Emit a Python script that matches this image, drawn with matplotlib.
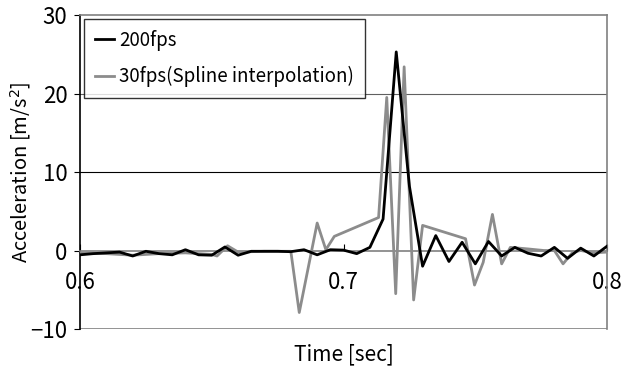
import numpy as np
import matplotlib.pyplot as plt

plt.rcParams['font.family'] = ['Noto Sans CJK JP', 'DejaVu Sans']

# 200fps measurement, every 0.005 s
t_200 = np.round(np.arange(0.6, 0.8001, 0.005), 3)
acc_200 = [-0.55, -0.4, -0.3, -0.2, -0.7, -0.1, -0.4, -0.55, 0.1, -0.55,
           -0.6, 0.45, -0.6, -0.1, -0.1, -0.1, -0.15, 0.1, -0.55, 0.1,
           0.05, -0.4, 0.4, 4.0, 25.3, 8.2, -2.0, 1.9, -1.4, 1.05,
           -1.7, 1.15, -0.7, 0.4, -0.35, -0.7, 0.4, -1.0, 0.3, -0.7, 0.55]

# 30fps with spline interpolation
t_30 = [0.600, 0.610, 0.620, 0.630, 0.640, 0.650, 0.652, 0.656, 0.660, 0.670,
        0.680, 0.6832, 0.690, 0.6933, 0.6965, 0.7133, 0.7164, 0.7198, 0.723, 0.7266,
        0.730, 0.7463, 0.7497, 0.753, 0.7565, 0.760, 0.7633, 0.770, 0.776, 0.780,
        0.7833, 0.787, 0.790, 0.795, 0.800]
acc_30 = [-0.3, -0.4, -0.6, -0.4, -0.3, -0.5, -0.7, 0.6, -0.2, -0.1,
          -0.1, -7.9, 3.5, 0.1, 1.8, 4.2, 19.5, -5.5, 23.4, -6.3,
          3.2, 1.5, -4.4, -1.5, 4.6, -1.7, 0.4, 0.2, 0.0, 0.0,
          -1.7, -0.2, 0.0, -0.3, -0.2]

fig = plt.figure(figsize=(6.22, 3.69), dpi=100)
ax = fig.add_axes([0.1286, 0.1084, 0.976 - 0.1286, 0.9593 - 0.1084])

grey = '#808080'
ax.axhline(10, color='black', lw=0.8, zorder=1)
ax.axhline(20, color='#606060', lw=0.8, zorder=1)
ax.axhline(-10, color=grey, lw=1.2, zorder=1)

ax.plot(t_200, acc_200, color='black', lw=2, label='200fps', zorder=4)
ax.plot(t_30, acc_30, color='#8c8c8c', lw=2, label='30fps(Spline interpolation)', zorder=3)

ax.set_xlim(0.6, 0.8)
ax.set_ylim(-10, 30)
ax.set_xticks([0.6, 0.7, 0.8])
ax.set_xticklabels(['0.6', '0.7', '0.8'])
ax.set_yticks([-10, 0, 10, 20, 30])
ax.set_yticklabels(['\u221210', '0', '10', '20', '30'])

ax.spines['bottom'].set_position(('data', 0))
ax.spines['bottom'].set_color(grey)
ax.spines['top'].set_color(grey)
ax.spines['right'].set_color(grey)
ax.spines['left'].set_color('black')
for s in ax.spines.values():
    s.set_linewidth(1.2)

ax.tick_params(axis='x', direction='in', length=5, color='black', pad=15, labelsize=16)
ax.tick_params(axis='y', direction='out', length=4, pad=5, labelsize=16)

ax.set_xlabel('Time [sec]', fontsize=15)
ax.xaxis.set_label_coords(0.5, -0.045)
ax.set_ylabel('Acceleration [m/s$^2$]', fontsize=14.5)
ax.yaxis.set_label_coords(-0.09, 0.5)

leg = ax.legend(loc='upper left', fontsize=13.5, frameon=True, fancybox=False,
                edgecolor='black', handlelength=1.0, handletextpad=0.3,
                borderaxespad=0.2, labelspacing=0.8, borderpad=0.6)
leg.get_frame().set_linewidth(1.0)

fig.savefig('out.png', dpi=100)
